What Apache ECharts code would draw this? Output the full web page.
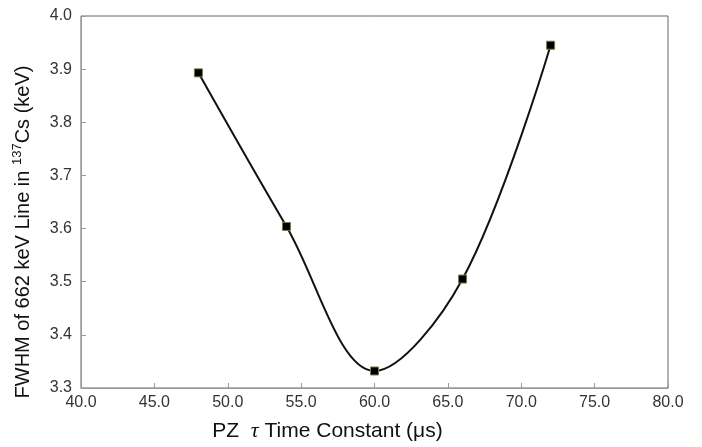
<!DOCTYPE html>
<html>
<head>
<meta charset="utf-8">
<script src="https://cdn.jsdelivr.net/npm/echarts@6/dist/echarts.min.js"></script>
<style>html,body{margin:0;padding:0;background:#fff}#c{width:702px;height:447px}</style>
</head>
<body>
<div id="c"></div>
<script>
var tauValues = [48, 54, 60, 66, 72];
var fwhmValues = [3.893, 3.604, 3.332, 3.505, 3.945];
var xTicks = {min: 40, max: 80, interval: 5};
var yTicks = {min: 3.3, max: 4.0, interval: 0.1};

var chart = echarts.init(document.getElementById('c'), null, {renderer: 'canvas'});
var font = 'Liberation Sans, Arial, sans-serif';
chart.setOption({
  animation: false,
  backgroundColor: '#fff',
  grid: {left: 81, right: 34, top: 16, bottom: 55, show: true, borderColor: '#666', borderWidth: 1, containLabel: false},
  xAxis: {
    type: 'value', min: xTicks.min, max: xTicks.max, interval: xTicks.interval,
    axisLine: {show: true, lineStyle: {color: '#999', width: 1}},
    axisTick: {show: true, inside: true, length: 5, lineStyle: {color: '#999'}},
    splitLine: {show: false},
    axisLabel: {margin: 7, color: '#333', fontSize: 16, fontFamily: font, formatter: function(v){return v.toFixed(1);}},
    name: '{a|PZ  }{t|τ}{a| Time Constant (μs)}',
    nameLocation: 'middle', nameGap: 32,
    nameTextStyle: {
      padding: [0, 94, 0, 0],
      rich: {
        a: {fontSize: 21, fontFamily: font, color: '#111'},
        t: {fontSize: 22, fontFamily: 'Liberation Serif, serif', fontStyle: 'italic', color: '#111'}
      }
    }
  },
  yAxis: {
    type: 'value', min: yTicks.min, max: yTicks.max, interval: yTicks.interval,
    axisLine: {show: true, lineStyle: {color: '#999', width: 1}},
    axisTick: {show: true, inside: true, length: 5, lineStyle: {color: '#999'}},
    splitLine: {show: false},
    axisLabel: {margin: 9, color: '#333', fontSize: 16, fontFamily: font, formatter: function(v){return v.toFixed(1);}},
    name: '{a|FWHM of 662 keV Line in }{s|137}{a|Cs (keV)}',
    nameLocation: 'middle', nameGap: 46, nameRotate: 90,
    nameTextStyle: {
      padding: [0, 60, 0, 0],
      rich: {
        a: {fontSize: 20, fontFamily: font, color: '#111', lineHeight: 24},
        s: {fontSize: 13, fontFamily: font, color: '#111', lineHeight: 14, verticalAlign: 'top'}
      }
    }
  },
  series: [{
    type: 'line',
    data: tauValues.map(function(x, i){ return [x, fwhmValues[i]]; }),
    smooth: 0.35,
    symbol: 'rect', symbolSize: 8,
    itemStyle: {color: '#000', borderColor: '#7a7a40', borderWidth: 1},
    lineStyle: {color: '#111', width: 2},
    z: 3
  }]
});
</script>
</body>
</html>
